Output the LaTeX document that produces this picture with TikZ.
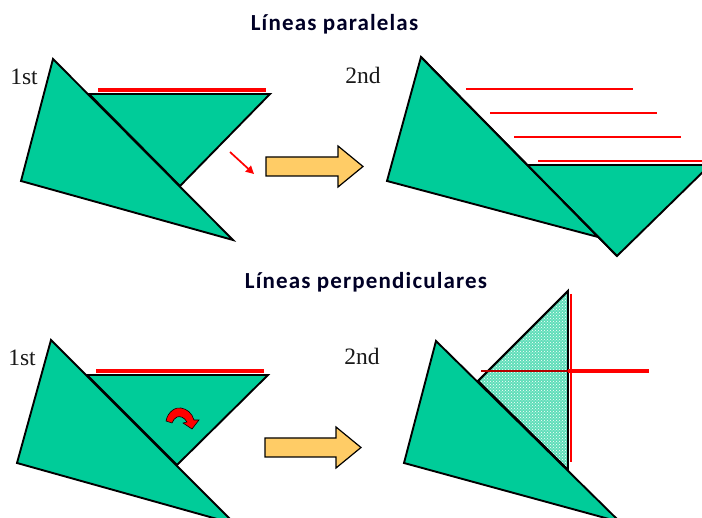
\documentclass[tikz,border=0pt]{standalone}
\usepackage{fontspec}
\setmainfont{Liberation Serif}
\newfontfamily\titlefont[LetterSpace=5]{Carlito}
\usetikzlibrary{patterns,arrows.meta}
\definecolor{tealgreen}{RGB}{0,204,153}
\definecolor{blockorange}{RGB}{255,204,102}
\definecolor{shadegreen}{RGB}{95,222,185}
\tikzset{
  x=1pt,y=-1pt,
  tri/.style={fill=tealgreen,draw=black,line width=1.9pt,line join=miter},
  hatched/.style={fill=shadegreen,draw=black,line width=1.9pt,line join=miter},
  redline/.style={draw=red,line width=1.4pt},
  redthick/.style={draw=red,line width=3.6pt},
  blockarrow/.style={fill=blockorange,draw=black,line width=1.2pt,line join=miter},
  titletext/.style={font=\titlefont\bfseries\fontsize{23}{26}\selectfont,text=black!85!blue,inner sep=0pt},
  ordtext/.style={font=\fontsize{23.5}{27}\selectfont,text=black!90,inner sep=0pt}
}
\begin{document}
\begin{tikzpicture}
\useasboundingbox[fill=white] (0,0) rectangle (702,518);
\clip (0,0) rectangle (702,518);
% titles
\node[titletext] (t1) at (334.5,24) {Líneas paralelas};
\node[titletext] (t2) at (366,282) {Líneas perpendiculares};
\node[ordtext] (a1) at (24,77) {1st};
\node[ordtext] (a2) at (363,75) {2nd};
\node[ordtext] (a3) at (22,358) {1st};
\node[ordtext] (a4) at (362,356) {2nd};
% panel 1
\draw[tri] (89,94) -- (270,94) -- (180,186) -- cycle;
\draw[tri] (53,59) -- (21,181) -- (233,240) -- cycle;
\draw[redthick] (98,90) -- (266,90);
\draw[draw=red,line width=1.7pt,-{Triangle[length=8pt,width=8pt]}] (230,152) -- (254,174);
\draw[blockarrow] (266,157) -- (338,157) -- (338,146) -- (363,166.5) -- (338,187) -- (338,176) -- (266,176) -- cycle;
% panel 2
\draw[tri] (527,165) -- (710,165) -- (617,256) -- cycle;
\draw[tri] (421,57) -- (387,181) -- (598,237) -- cycle;
\draw[tri,fill=none] (421,57) -- (617,256);
\draw[redline] (466,89) -- (633,89);
\draw[redline] (490,113) -- (657,113);
\draw[redline] (514,137) -- (681,137);
\draw[redline] (538,161) -- (702,161);
% panel 3
\draw[tri] (87,375) -- (268,375) -- (177,465) -- cycle;
\draw[tri] (51,340) -- (17,463) -- (235,524) -- cycle;
\draw[redthick] (96,371) -- (264,371);
\draw[fill=red,draw=black,line width=.6pt]
  (166,421) .. controls (168,411) and (176,407) .. (181,408)
  .. controls (187,409) and (192,413) .. (194,420)
  -- (199,420) -- (192,429) -- (183,423) -- (187,422)
  .. controls (184,417) and (180,416) .. (177,417)
  .. controls (175,418) and (173,420) .. (172,423) -- cycle;
\draw[blockarrow] (265,438) -- (336,438) -- (336,427) -- (361,447.5) -- (336,468) -- (336,457) -- (265,457) -- cycle;
% panel 4
\draw[hatched] (568,291) -- (478,381) -- (568,470) -- cycle;
\fill[pattern=crosshatch dots,pattern color=white] (568,291) -- (478,381) -- (568,470) -- cycle;
\draw[hatched,fill=none] (568,291) -- (478,381) -- (568,470) -- cycle;
\draw[tri] (436,341) -- (404,463) -- (620,522) -- cycle;
\draw[draw=red,line width=1.5pt] (571,294) -- (571,462);
\draw[redthick] (568,371) -- (649,371);
\draw[draw=red!70!black,line width=2.8pt] (481,371) -- (568,371);
\end{tikzpicture}
\end{document}
